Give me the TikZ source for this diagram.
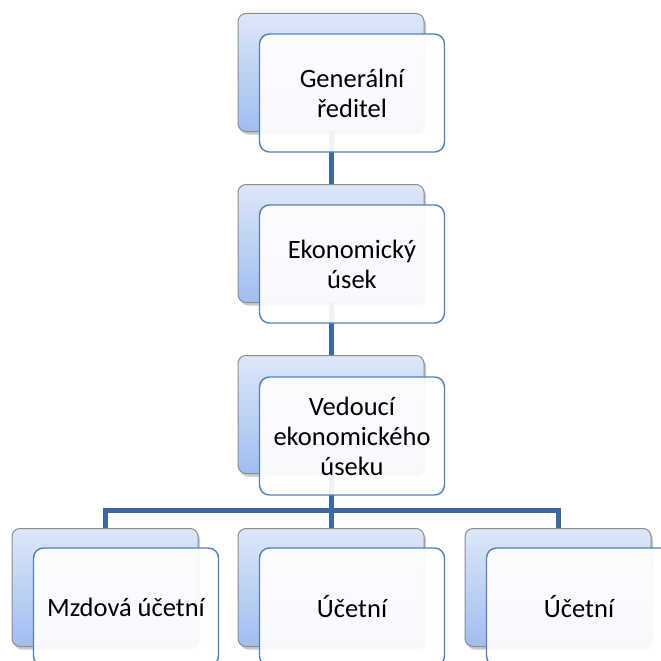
\documentclass[tikz,border=0pt]{standalone}
\usepackage{fontspec}
\setmainfont{Carlito}
\usetikzlibrary{shadows}
\definecolor{frameblue}{HTML}{4F81BD}
\definecolor{linkblue}{HTML}{3D69A3}
\definecolor{backtop}{HTML}{DDE7F8}
\definecolor{backbot}{HTML}{A0BDF0}
\tikzset{
  backbox/.style={draw=black!45, line width=1pt, rounded corners=8pt,
    minimum width=186pt, minimum height=118pt, inner sep=0pt,
    top color=backtop, bottom color=backbot,
    drop shadow={shadow xshift=2pt, shadow yshift=-3pt, opacity=0.35, fill=black!60}},
  frontbox/.style={draw=frameblue, line width=1.4pt, rounded corners=10pt,
    fill=white, fill opacity=0.92, text opacity=1,
    minimum width=185pt, minimum height=118pt, inner sep=0pt, align=center,
    font=\fontsize{26.5}{30}\selectfont},
  link/.style={draw=linkblue, line width=5pt}
}
\begin{document}
\begin{tikzpicture}[x=1pt,y=-1pt]
\useasboundingbox (0,0) rectangle (661,661);
% back layers
\node[backbox] (b1) at (331,72.5) {};
\node[backbox] (b2) at (331,243.5) {};
\node[backbox] (b3) at (331,414.5) {};
\node[backbox] (b4) at (105,587.5) {};
\node[backbox] (b5) at (331,587.5) {};
\node[backbox] (b6) at (558,587.5) {};
% connectors
\coordinate (j) at (331,510);
\draw[link] (b1.south) -- (b2.north);
\draw[link] (b2.south) -- (b3.north);
\draw[link] (b3.south) -- (j);
\draw[link] (b4.north) |- (j) -| (b6.north);
\draw[link] (j) -- (b5.north);
% front cards with the labels
\node[frontbox] (f1) at (352,93) {Generální\\ředitel};
\node[frontbox] (f2) at (352,264) {Ekonomický\\úsek};
\node[frontbox] (f3) at (352,436) {Vedoucí\\ekonomického\\úseku};
\node[frontbox] (f4) at (126,607) {Mzdová účetní};
\node[frontbox] (f5) at (352,607) {Účetní};
\node[frontbox] (f6) at (579,607) {Účetní};
\end{tikzpicture}
\end{document}
